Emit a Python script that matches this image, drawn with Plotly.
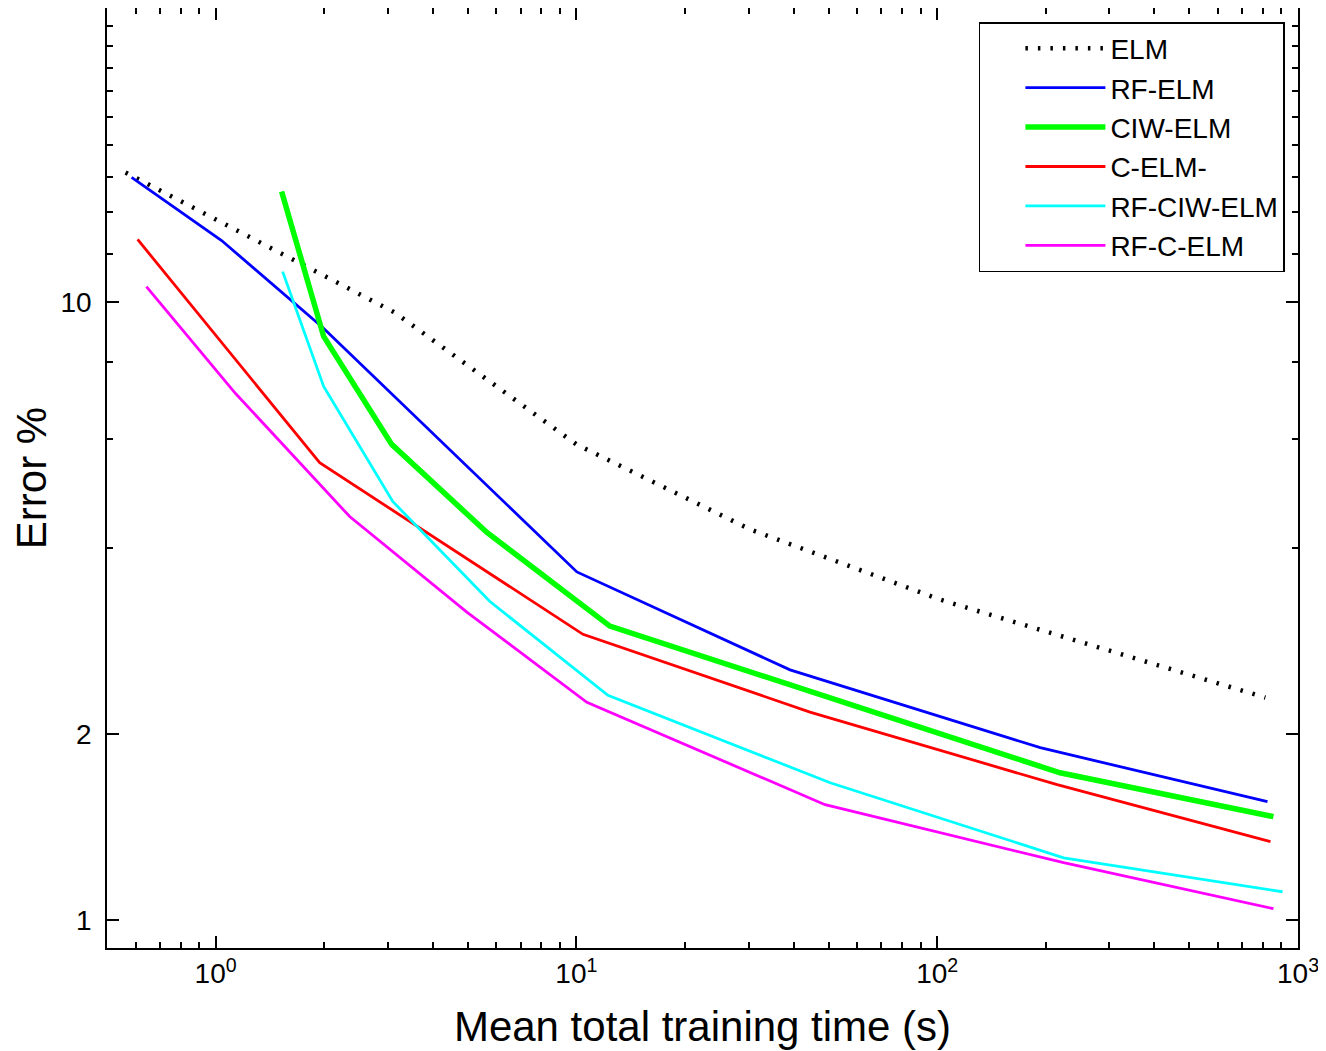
import plotly.graph_objects as go

# ---- data ----
elm_x = [0.563, 3.14, 10.0, 30.3, 102, 229, 812]
elm_y = [16.24, 9.63, 5.89, 4.29, 3.30, 2.86, 2.29]

rfelm_x = [0.585, 1.039, 1.981, 10.03, 39.1, 193, 823]
rfelm_y = [15.95, 12.60, 9.11, 3.66, 2.54, 1.90, 1.553]

ciwelm_x = [1.524, 1.993, 3.077, 5.65, 12.38, 219, 855]
ciwelm_y = [15.13, 8.81, 5.89, 4.24, 2.99, 1.730, 1.469]

celm_x = [0.608, 1.943, 10.43, 44.4, 215, 839]
celm_y = [12.65, 5.50, 2.90, 2.17, 1.655, 1.338]

rfciwelm_x = [1.534, 1.993, 3.097, 5.75, 12.23, 50.5, 224, 906]
rfciwelm_y = [11.22, 7.31, 4.76, 3.28, 2.31, 1.667, 1.260, 1.110]

rfcelm_x = [0.643, 1.136, 2.353, 4.97, 10.69, 48.9, 224, 855]
rfcelm_y = [10.61, 7.12, 4.50, 3.15, 2.25, 1.536, 1.237, 1.042]

x_major = [1, 10, 100, 1000]
x_major_text = ["10<sup>0</sup>", "10<sup>1</sup>", "10<sup>2</sup>", "10<sup>3</sup>"]
x_minor = [0.6, 0.7, 0.8, 0.9, 2, 3, 4, 5, 6, 7, 8, 9,
           20, 30, 40, 50, 60, 70, 80, 90, 200, 300, 400, 500, 600, 700, 800, 900]
y_major = [1, 2, 10]
y_major_text = ["1", "2", "10"]
y_minor = [4, 6, 8, 12, 14, 16, 18, 20, 22, 24, 26, 28]

FONT = "Liberation Sans, Arial, Helvetica, sans-serif"

series = [
    ("ELM", elm_x, elm_y, "#000000", 4.5, "2.5px,10px"),
    ("RF-ELM", rfelm_x, rfelm_y, "#0000FF", 2.8, "solid"),
    ("CIW-ELM", ciwelm_x, ciwelm_y, "#00FF00", 5.5, "solid"),
    ("C-ELM-", celm_x, celm_y, "#FF0000", 2.8, "solid"),
    ("RF-CIW-ELM", rfciwelm_x, rfciwelm_y, "#00FFFF", 2.8, "solid"),
    ("RF-C-ELM", rfcelm_x, rfcelm_y, "#FF00FF", 2.8, "solid"),
]

fig = go.Figure()
for name, xs, ys, color, w, dash in series:
    fig.add_trace(go.Scatter(
        x=xs, y=ys, mode="lines", name=name,
        line=dict(color=color, width=w, dash=dash),
    ))

axis_common = dict(
    showline=True, linecolor="black", linewidth=1.5, mirror="ticks",
    ticks="inside", ticklen=12, tickwidth=1.5, tickcolor="black",
    showgrid=False, zeroline=False, automargin=False,
    tickfont=dict(family=FONT, size=28, color="black"),
)

fig.update_xaxes(
    type="log", range=[-0.301, 3.0],
    tickmode="array", tickvals=x_major, ticktext=x_major_text,
    ticklabelstandoff=0,
    minor=dict(tickmode="array", tickvals=x_minor, ticks="inside",
               ticklen=6, tickwidth=1.5, tickcolor="black", showgrid=False),
    title=dict(text="Mean total training time (s)",
               font=dict(family=FONT, size=42, color="black"), standoff=23),
    **axis_common,
)
fig.update_yaxes(
    type="log", range=[-0.0458, 1.4771],
    tickmode="array", tickvals=y_major, ticktext=y_major_text,
    ticklabelstandoff=8,
    minor=dict(tickmode="array", tickvals=y_minor, ticks="inside",
               ticklen=6, tickwidth=1.5, tickcolor="black", showgrid=False),
    title=dict(text="Error %",
               font=dict(family=FONT, size=42, color="black"), standoff=12),
    **axis_common,
)

# the page body adds an 8px offset, so the figure is sized to fit the window
fig.update_layout(
    width=1318, height=1043, autosize=False,
    margin=dict(l=99, r=28, t=0, b=103, autoexpand=False),
    paper_bgcolor="white", plot_bgcolor="white",
    font=dict(family=FONT, color="black"),
    legend=dict(
        x=0.989, y=0.985, xanchor="right", yanchor="top",
        bgcolor="white", bordercolor="black", borderwidth=1.5,
        font=dict(family=FONT, size=28, color="black"),
        itemwidth=80, tracegroupgap=0, indentation=40,
    ),
    showlegend=True,
)

fig.write_html("out.html")
